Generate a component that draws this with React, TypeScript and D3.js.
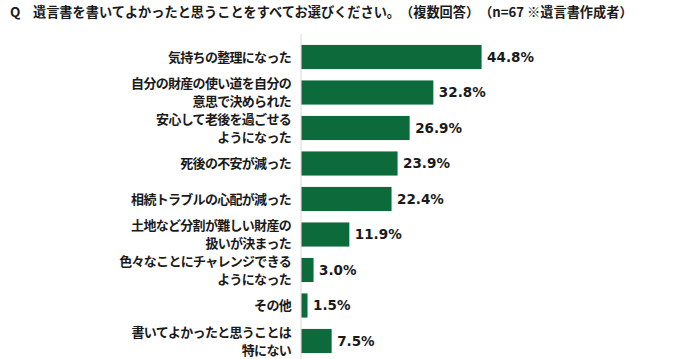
import React from "react";
import * as d3 from "d3";

const title = "遺言書を書いてよかったと思うことをすべてお選びください。（複数回答）（n=67 ※遺言書作成者）";
const categories = [
  "気持ちの整理になった",
  "自分の財産の使い道を自分の\n意思で決められた",
  "安心して老後を過ごせる\nようになった",
  "死後の不安が減った",
  "相続トラブルの心配が減った",
  "土地など分割が難しい財産の\n扱いが決まった",
  "色々なことにチャレンジできる\nようになった",
  "その他",
  "書いてよかったと思うことは\n特にない",
];
const values = [44.8, 32.8, 26.9, 23.9, 22.4, 11.9, 3.0, 1.5, 7.5];

const W = 700;
const H = 359;
const green = "#0d6b3b";
const jp = "'Noto Sans CJK JP', 'Noto Sans', sans-serif";

export default function App() {
  const y = d3
    .scaleBand<string>()
    .domain(categories)
    .range([39.25, 358.75])
    .paddingInner(0.32)
    .paddingOuter(0.16);
  const x = d3.scaleLinear().domain([0, 50]).range([301, 502]);

  return (
    <svg
      width={W}
      height={H}
      style={{ position: "absolute", left: 0, top: 0, background: "#fff" }}
    >
      <text x={10} y={17} fontFamily={jp} fontWeight="bold" fontSize={13.5} fill="#1a1a1a">
        Q
      </text>
      <text
        x={33}
        y={17}
        fontFamily={jp}
        fontWeight="bold"
        fontSize={13.2}
        fill="#1a1a1a"
        style={{ textSpacingTrim: "space-all" } as React.CSSProperties}
      >
        {title}
      </text>
      <line x1={x(0)} x2={x(0)} y1={34} y2={H} stroke="#d9d9d9" strokeWidth={1} />
      {categories.map((c, i) => {
        const cy = (y(c) ?? 0) + y.bandwidth() / 2;
        const lines = c.split("\n");
        return (
          <g key={c}>
            <rect
              x={x(0) + 0.5}
              y={y(c)}
              width={x(values[i]) - x(0)}
              height={y.bandwidth()}
              fill={green}
            />
            <text
              x={x(values[i]) + 6}
              y={cy}
              dy="0.36em"
              fontFamily="'DejaVu Sans', sans-serif"
              fontWeight="bold"
              fontSize={13.5}
              fill="#1a1a1a"
            >
              {values[i].toFixed(1)}%
            </text>
            {lines.map((l, j) => (
              <text
                key={j}
                x={291}
                y={cy + (lines.length === 1 ? 0 : j === 0 ? -9 : 9)}
                dy="0.36em"
                textAnchor="end"
                fontFamily={jp}
                fontWeight="bold"
                fontSize={13}
                letterSpacing={-0.7}
                fill="#1a1a1a"
              >
                {l}
              </text>
            ))}
          </g>
        );
      })}
    </svg>
  );
}
